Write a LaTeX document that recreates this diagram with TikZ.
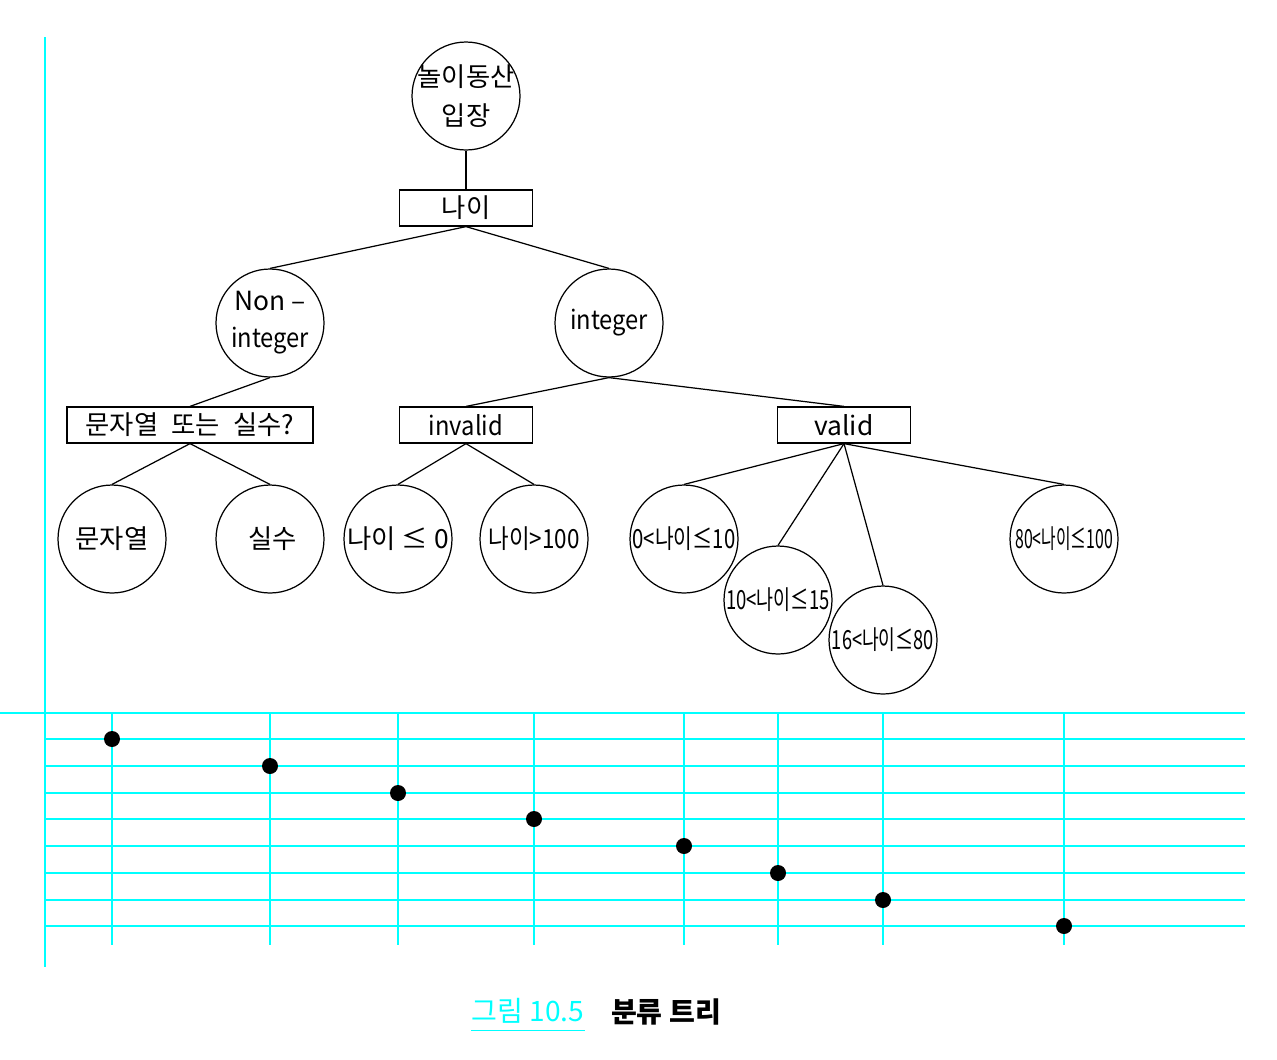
\documentclass[tikz,border=0pt]{standalone}
\usepackage{fontspec}
\setmainfont{Noto Sans CJK KR}
\usepackage{graphicx}
\usetikzlibrary{positioning}

\definecolor{aqua}{RGB}{0,255,255}
\newcommand{\squeeze}[2]{\scalebox{#1}[1]{#2}}

\begin{document}
\begin{tikzpicture}[x=0.02cm, y=-0.02cm, line width=0.7pt,
  state/.style={draw, circle, minimum size=2.16cm, inner sep=0pt, align=center,
    font=\fontsize{15}{19}\selectfont},
  test/.style={draw, rectangle, minimum width=2.66cm, minimum height=0.72cm,
    inner sep=1pt, font=\fontsize{15}{19}\selectfont},
  gridline/.style={aqua, line width=1.1pt}]
  \useasboundingbox (0,0) rectangle (1277,1059);

  % tree
  \node[state, inner sep=-8pt] (park) at (466,96) {놀이동산\\[3pt]입장};
  \node[test] (age) at (466,208) {나이};
  \node[state, inner sep=-6pt] (nonint) at (270,323) {Non –\\[2pt]\squeeze{0.9}{integer}};
  \node[state] (int) at (609,323) {\squeeze{0.9}{integer}};
  \node[test, minimum width=4.92cm] (kind) at (190,425) {문자열\enspace 또는\enspace 실수?};
  \node[test] (invalid) at (466,425) {\squeeze{0.9}{invalid}};
  \node[test] (valid) at (844,425) {valid};
  \node[state] (str) at (112,539) {문자열};
  \node[state] (real) at (270,539) {\hspace*{3pt}실수};
  \node[state] (low) at (398,539) {나이 ≤ 0};
  \node[state] (high) at (534,539) {\squeeze{0.85}{나이>100}};
  \node[state] (kid) at (684,539) {\squeeze{0.77}{0<나이≤10}};
  \node[state] (teen) at (778,600) {\squeeze{0.7}{10<나이≤15}};
  \node[state] (adult) at (883,640) {\squeeze{0.69}{16<나이≤80}};
  \node[state] (old) at (1064,539) {\squeeze{0.6}{80<나이≤100}};

  \draw (park.south) -- (age.north);
  \draw (age.south) -- (nonint.north);
  \draw (age.south) -- (int.north);
  \draw (nonint.south) -- (kind.north);
  \draw (int.south) -- (invalid.north);
  \draw (int.south) -- (valid.north);
  \draw (kind.south) -- (str.north);
  \draw (kind.south) -- (real.north);
  \draw (invalid.south) -- (low.north);
  \draw (invalid.south) -- (high.north);
  \draw (valid.south) -- (kid.north);
  \draw (valid.south) -- (teen.north);
  \draw (valid.south) -- (adult.north);
  \draw (valid.south) -- (old.north);

  % grid
  \draw[gridline] (45,37) -- (45,967);
  \draw[gridline] (0,713) -- (1245,713);
  \foreach \y in {739,766,793,819,846,873,900,926}
    \draw[gridline] (45,\y) -- (1245,\y);
  \foreach \x/\y in {112/739,270/766,398/793,534/819,684/846,778/873,883/900,1064/926} {
    \draw[gridline] (\x,713) -- (\x,945);
    \fill (\x,\y) circle (0.16cm);
  }

  % caption
  \node[aqua, inner xsep=0pt, font=\fontsize{16}{19}\selectfont] (fignum) at (528,1011) {그림 10.5};
  \node[font=\fontsize{16}{19}\selectfont\bfseries] (figtitle) at (666,1012) {분류 트리};
  \draw[aqua, line width=0.6pt] (fignum.south west) -- (fignum.south east);
\end{tikzpicture}
\end{document}
